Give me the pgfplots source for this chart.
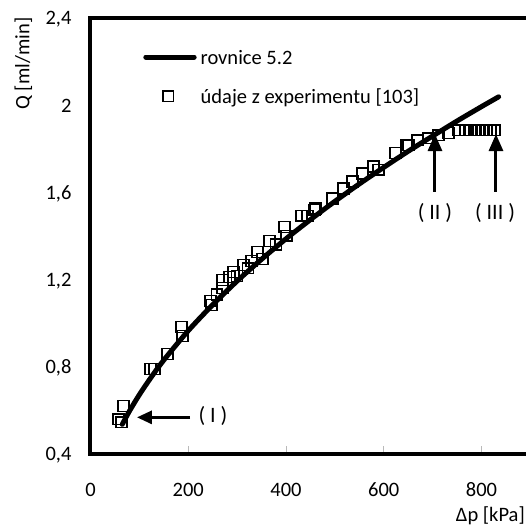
\documentclass[border=0pt]{standalone}
\usepackage{fontspec}
\setmainfont{Carlito}
\usepackage{pgfplots}
\pgfplotsset{compat=1.18}
\usetikzlibrary{arrows.meta}
\newcommand{\cf}{\fontsize{20.5}{24}\selectfont}
\newcommand{\af}{\fontsize{22}{26}\selectfont}
\begin{document}
\begin{tikzpicture}
\begin{axis}[
  scale only axis, width=439.9pt, height=435.5pt,
  xmin=0, xmax=900, ymin=0.4, ymax=2.4,
  axis line style={line width=4pt},
  xtick={0,200,400,600,800},
  xticklabels={0,200,400,600,800},
  ytick={0.4,0.8,1.2,1.6,2,2.4},
  yticklabels={{0,4},{0,8},{1,2},{1,6},{2},{2,4}},
  tick align=inside,
  xtick pos=left, ytick pos=left,
  major tick length=7pt,
  xtick style={gray!55, line width=1pt},
  ytick style={draw=none},
  tick label style={font=\cf},
  xticklabel style={anchor=base, yshift=-42.5pt, inner sep=0pt},
  yticklabel style={anchor=base east, inner sep=0pt, xshift=-18.8pt, yshift=-7pt},
  xlabel={Δp [kPa]},
  ylabel={Q [ml/min]},
  label style={font=\cf},
  x label style={at={(axis description cs:0.9877,-0.1566)}, anchor=base east, inner sep=0pt},
  y label style={at={(axis description cs:-0.1528,0.8955)}, anchor=center, inner sep=0pt},
  legend style={at={(rel axis cs:0.12,0.9272)}, anchor=north west, draw=none, fill=none,
    inner sep=0pt, outer sep=0pt, row sep=24.7pt, column sep=4pt, font=\cf,
    nodes={inner sep=0pt, text height=14.6pt, text depth=0pt}},
  legend cell align=left,
  reverse legend,
]
\addplot[only marks, mark=square, mark size=5.4pt,
  mark options={line width=1.3pt, black, fill=none},
  legend image code/.code={\draw[mark repeat=2,mark phase=2] plot coordinates {(0pt,0pt)(25pt,0pt)(50pt,0pt)};}]
table {
x y
57.3 0.557
63.4 0.543
67.5 0.617
122.8 0.787
130.9 0.787
157.5 0.856
186.1 0.981
188.2 0.939
245.5 1.100
247.6 1.082
258.0 1.130
270.1 1.197
270.1 1.160
284.4 1.211
292.6 1.234
300.0 1.215
313.0 1.266
322.0 1.250
329.4 1.285
341.7 1.326
351.9 1.294
366.2 1.377
380.0 1.360
396.9 1.441
401.0 1.400
431.7 1.492
444.0 1.492
458.3 1.520
460.4 1.525
495.1 1.571
517.6 1.617
536.1 1.649
556.5 1.686
579.0 1.718
589.3 1.704
624.1 1.779
646.5 1.815
650.6 1.815
669.0 1.838
691.5 1.847
712.0 1.861
732.5 1.871
752.9 1.884
767.3 1.884
777.5 1.884
785.7 1.884
793.8 1.884
802.0 1.884
810.2 1.884
818.4 1.884
826.6 1.884
};
\addlegendentry{údaje z experimentu [103]}
\addplot[black, line width=5pt, smooth, line cap=round,
  legend image code/.code={\draw[line width=5pt, line cap=round] (2.5pt,0pt) -- (50.9pt,0pt);}]
coordinates {
(65,0.534) (80,0.596) (100,0.670) (125,0.753) (150,0.829) (200,0.964)
(250,1.083) (300,1.192) (350,1.292) (400,1.386) (450,1.474) (500,1.558)
(550,1.638) (600,1.714) (650,1.788) (700,1.858) (750,1.927) (800,1.993) (835,2.038)
};
\addlegendentry{rovnice 5.2}
\draw[line width=3pt, -{Triangle[length=15pt, width=13pt]}] (axis cs:204,0.566) -- (axis cs:95,0.566);
\draw[line width=3pt, -{Triangle[length=17pt, width=14pt]}] (axis cs:704.8,1.601) -- (axis cs:704.8,1.867);
\draw[line width=3pt, -{Triangle[length=17pt, width=14pt]}] (axis cs:829.6,1.601) -- (axis cs:829.6,1.867);
\node[font=\af, inner sep=0pt] at (axis cs:250.6,0.572) {( I )};
\node[font=\af, inner sep=0pt] at (axis cs:704.8,1.504) {( II )};
\node[font=\af, inner sep=0pt] at (axis cs:827.6,1.504) {( III )};
\coordinate (O) at (rel axis cs:0,0);
\end{axis}
\pgfresetboundingbox
\path[use as bounding box] ([shift={(-90.5pt,-73.5pt)}]O) rectangle ([shift={(435.5pt,453.5pt)}]O);
\end{tikzpicture}
\end{document}
